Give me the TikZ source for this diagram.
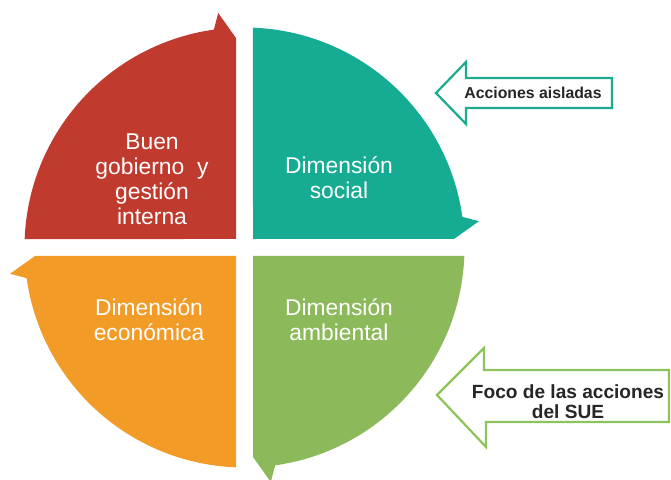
\documentclass[tikz,border=0pt]{standalone}
\usepackage{fontspec}
\setmainfont{Liberation Sans}
\usetikzlibrary{positioning}
\definecolor{gobred}{RGB}{192,58,46}
\definecolor{socteal}{RGB}{22,172,148}
\definecolor{ecoorange}{RGB}{242,155,38}
\definecolor{ambgreen}{RGB}{140,185,90}
\definecolor{callteal}{RGB}{30,170,140}
\definecolor{callgreen}{RGB}{140,195,90}
\tikzset{
    % outline of the two hollow arrows
    callout/.style={
           line width=1.9pt,
           fill=white,
           line join=miter,}
}
\newcommand{\ringradius}{220}
% one quarter of the ring, arrow head at its clockwise end
\newcommand{\ringsector}{(-8.5,8.5) -- (177.79:\ringradius) arc[start angle=177.79, end angle=98, radius=\ringradius] -- (96.4:236) -- (-8.5,209.5) -- cycle}

\begin{document}
\begin{tikzpicture}[x=0.03cm, y=0.03cm]
\tikzstyle{dimtext}=[text=white, align=center, font=\fontsize{19.5}{21.3}\selectfont]
\tikzstyle{calltext}=[text=black!85, align=center, font=\bfseries\fontsize{13.5}{16}\selectfont]

\useasboundingbox (0,0) rectangle (671,480);

\begin{scope}[shift={(244.5,232.5)}]
\fill[gobred] \ringsector;
\begin{scope}[rotate=-90]
\fill[socteal] \ringsector;
\end{scope}
\begin{scope}[rotate=-180]
\fill[ambgreen] \ringsector;
\end{scope}
\begin{scope}[rotate=-270]
\fill[ecoorange] \ringsector;
\end{scope}
\end{scope}

\node[dimtext] (buen) at(152,301) {Buen\\gobierno~ y\\gestión\\interna};
\node[dimtext] (social) at(339,302) {Dimensión\\social};
\node[dimtext] (economica) at(149,160) {Dimensión\\económica};
\node[dimtext] (ambiental) at(339,160) {Dimensión\\ambiental};

\draw[callout, draw=callteal] (436,387) -- (466,418) -- (466,402) -- (612,402) -- (612,372) -- (466,372) -- (466,356) -- cycle;
\node[calltext] (aisladas) at(533,387) {Acciones aisladas};

\draw[callout, draw=callgreen] (437,85) -- (484,132) -- (484,110) -- (669,110) -- (669,58) -- (486,58) -- (486,33) -- cycle;
\node[calltext, font=\bfseries\fontsize{16.3}{17}\selectfont] (foco) at(568,78.5) {Foco de las acciones\\del SUE};

\end{tikzpicture}
\end{document}
